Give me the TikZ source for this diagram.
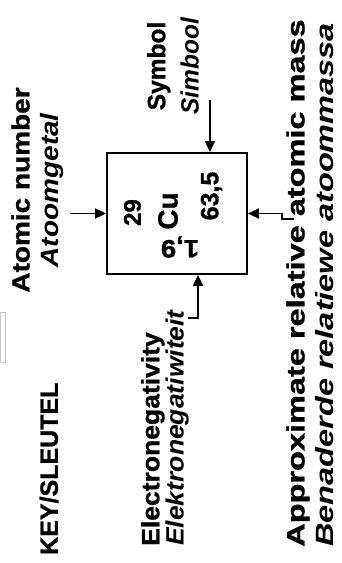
\documentclass[tikz,border=0pt]{standalone}
\usepackage{fontspec}
\setmainfont[BoldFeatures={FakeBold=1}]{Liberation Sans}
\usetikzlibrary{arrows.meta,positioning,calc}

\begin{document}
\begin{tikzpicture}[
  x=1pt, y=1pt,
  lbl/.style={rotate=90, inner sep=0pt, font=\bfseries\fontsize{25}{29}\selectfont},
  elembox/.style={draw, line width=1.8pt, minimum width=140pt, minimum height=121pt, inner sep=0pt},
  num/.style={rotate=90, inner sep=0pt, font=\bfseries\fontsize{25}{25}\selectfont},
  arr/.style={-{Triangle[length=11pt,width=10pt]}, line width=1.8pt}
]
\useasboundingbox (0,0) rectangle (342,563);
\draw[gray!45, line width=0.8pt] (0.5,201) rectangle (5,251);
% element box
\node[elembox] (elem) at (177,349.5) {};
\node[num, font=\bfseries\fontsize{24}{24}\selectfont] (anumval) at (132.5,350.5) {29};
\node[num, font=\bfseries\fontsize{28}{28}\selectfont] (symval) at (168,352) {Cu};
\node[num] (amassval) at (211.5,367) {63,5};
\node[num, rotate=90, xscale=1.1] (enegval) at (180,316) {1,9};
% labels
\node[lbl, xscale=1.0, anchor=west] (key) at (49,8) {KEY/SLEUTEL};
\node[lbl, xscale=1.12, align=center] (anum) at (37.5,373) {Atomic number\\\textit{Atoomgetal}};
\node[lbl, xscale=0.98, align=center, font=\bfseries\fontsize{25}{33.5}\selectfont] (sym) at (173,497) {Symbol\\\textit{Simbool}};
\node[lbl, xscale=1.06, align=left, anchor=west, font=\bfseries\fontsize{25}{22.5}\selectfont] (eneg) at (165,17) {Electronegativity\\\textit{Elektronegatiwiteit}};
\node[lbl, xscale=1.3, align=left, anchor=west] (amass) at (310,16) {Approximate relative atomic mass\\\textit{Benaderde relatiewe atoommassa}};
% arrows
\coordinate (anumtail) at (70,349.5);
\draw[arr] (anumtail) -- (elem.west);
\coordinate (symtail) at (210,463);
\draw[arr] (symtail) -- (symtail |- elem.north);
\coordinate (enegtail) at (188,245);
\draw[arr] (enegtail) -| ($(elem.south)+(21,0)$);
\coordinate (amasstail) at (294,344);
\draw[arr] (amasstail) -- ++(-12,0) |- (elem.east);
\end{tikzpicture}
\end{document}
